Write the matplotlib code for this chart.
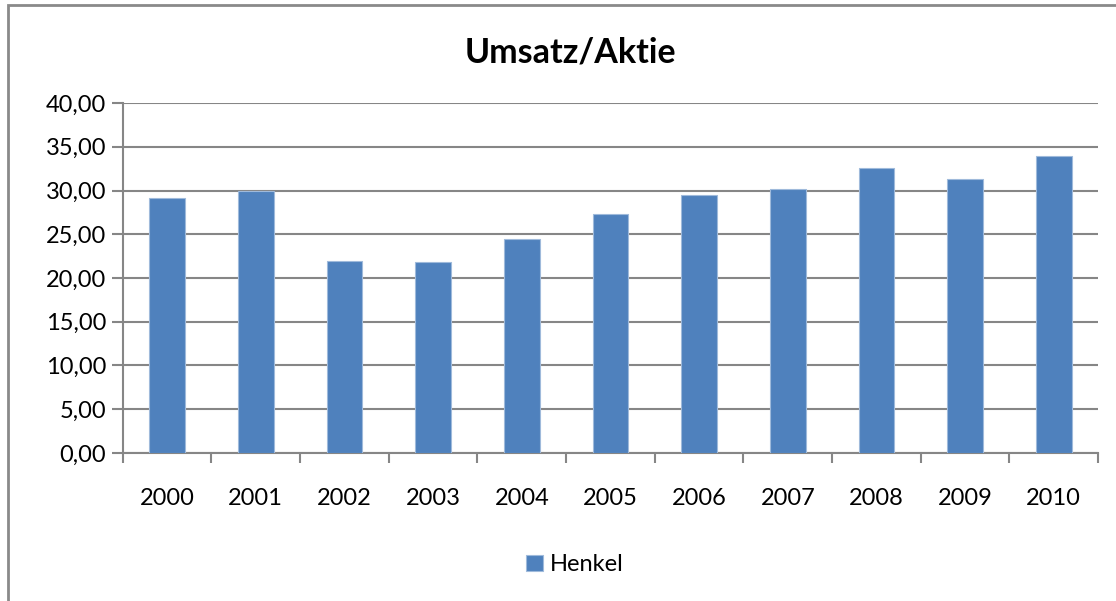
import matplotlib.pyplot as plt
from matplotlib.patches import Rectangle
from matplotlib.ticker import FuncFormatter, FixedLocator

# data
years = ["2000", "2001", "2002", "2003", "2004", "2005",
         "2006", "2007", "2008", "2009", "2010"]
henkel = [29.1, 30.0, 21.9, 21.8, 24.5, 27.3, 29.5, 30.2, 32.6, 31.3, 34.0]

plt.rcParams['font.family'] = ['Lato', 'DejaVu Sans']

fig = plt.figure(figsize=(11.16, 6.01), dpi=100)
ax = fig.add_axes([0.110, 0.2463, 0.874, 0.5823])

x = list(range(len(years)))
ax.bar(x, henkel, width=0.4, color='#4F81BD', edgecolor='#9fbadb',
       linewidth=0.8, label='Henkel', zorder=3)

ax.set_xlim(-0.5, len(years) - 0.5)
ax.set_ylim(0, 40)
ax.set_yticks(range(0, 41, 5))
ax.yaxis.set_major_formatter(FuncFormatter(lambda v, p: f"{v:.2f}".replace('.', ',')))
ax.set_xticks(x)
ax.set_xticklabels(years)
ax.xaxis.set_minor_locator(FixedLocator([i - 0.5 for i in range(len(years) + 1)]))

ax.grid(axis='y', color='#868686', linewidth=1.5, zorder=0)
for s in ['top', 'right']:
    ax.spines[s].set_visible(False)
for s in ['left', 'bottom']:
    ax.spines[s].set_color('#868686')
    ax.spines[s].set_linewidth(1.5)

ax.tick_params(axis='y', length=8, width=1.5, color='#868686', labelsize=17, pad=4)
ax.tick_params(axis='x', which='major', length=0, labelsize=17, pad=25)
ax.tick_params(axis='x', which='minor', length=7, width=1.5, color='#868686')

fig.text(0.511, 0.912, "Umsatz/Aktie", ha='center', va='center',
         fontsize=24.5, fontweight='bold')

fig.legend(loc='center', bbox_to_anchor=(0.515, 0.06), frameon=False,
           fontsize=17, handlelength=0.7, handleheight=0.7, handletextpad=0.3)

# chart border like the spreadsheet frame
fig.patches.append(Rectangle((8 / 1116, -0.05), 1.2, 0.05 + (601 - 5) / 601,
                             transform=fig.transFigure, fill=False,
                             edgecolor='#8a8a8a', linewidth=2))

fig.savefig("out.png", dpi=100)
